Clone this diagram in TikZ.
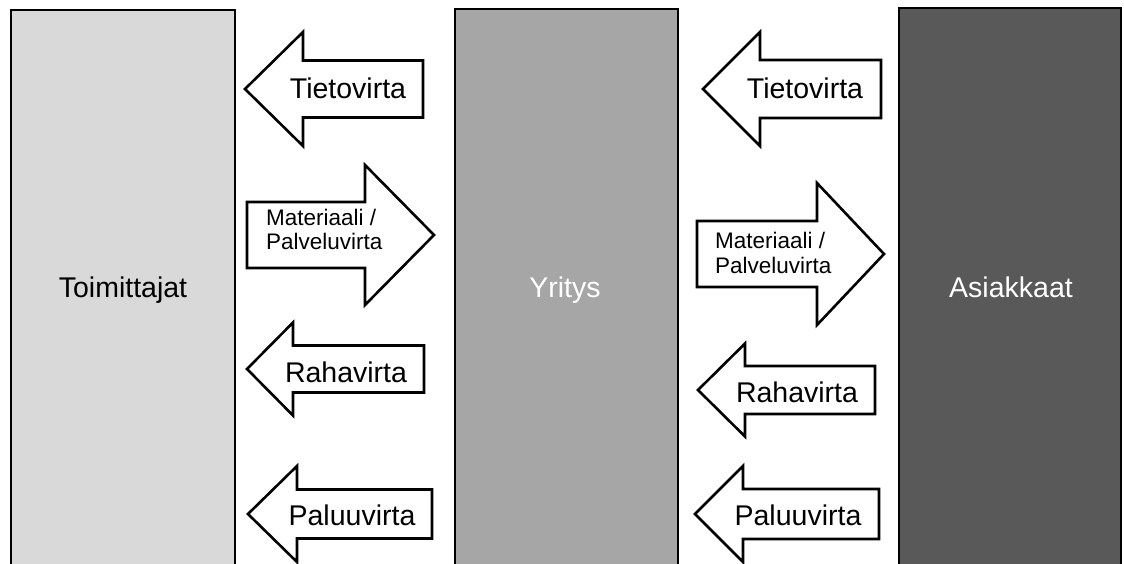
\documentclass[tikz,border=0pt]{standalone}
\usepackage{fontspec}
\setmainfont{Liberation Sans}
\definecolor{lightgrey}{HTML}{D9D9D9}
\definecolor{midgrey}{HTML}{A6A6A6}
\definecolor{darkgrey}{HTML}{595959}
% block arrow pointing left: tip x, centre y, head base x, head half-height, shaft half-height, tail x
\newcommand\flowleft[6]{%
  \draw[flow] (#1,#2) -- (#3,#2-#4) -- (#3,#2-#5) -- (#6,#2-#5) -- (#6,#2+#5)
    -- (#3,#2+#5) -- (#3,#2+#4) -- cycle;}
% block arrow pointing right: tail x, centre y, head base x, head half-height, shaft half-height, tip x
\newcommand\flowright[6]{%
  \draw[flow] (#1,#2-#5) -- (#3,#2-#5) -- (#3,#2-#4) -- (#6,#2) -- (#3,#2+#4)
    -- (#3,#2+#5) -- (#1,#2+#5) -- cycle;}
\begin{document}
\begin{tikzpicture}[x=1pt,y=-1pt,
  party/.style={draw=black, line width=2.6pt},
  flow/.style={draw=black, fill=white, line width=2.6pt, line join=miter},
  biglabel/.style={font=\fontsize{28.5}{30}\selectfont, inner sep=0pt, anchor=base},
  smalllabel/.style={font=\fontsize{22.5}{24}\selectfont, inner sep=0pt, anchor=base west}]
\useasboundingbox (0,0) rectangle (1124,563);
\fill[white] (0,0) rectangle (1124,563);
\clip (0,0) rectangle (1124,563);

% the three parties, running off the bottom edge
\draw[party, fill=lightgrey] (11,10) rectangle (235,580);
\draw[party, fill=midgrey]   (455,9) rectangle (678,580);
\draw[party, fill=darkgrey]  (899,8) rectangle (1121,580);

\node[biglabel] (toim) at (123,297) {Toimittajat};
\node[biglabel, text=white] (yrit) at (565,297) {Yritys};
\node[biglabel, text=white] (asia) at (1011,297) {Asiakkaat};

% flows between suppliers and the company
\flowleft{245}{89}{303}{57}{28.5}{423}
\node[biglabel] (tieto1) at (348,98) {Tietovirta};
\flowright{247}{235}{365}{70}{33}{434}
\node[smalllabel] (mat1) at (266,225) {Materiaali /};
\node[smalllabel] (pal1) at (266,249) {Palveluvirta};
\flowleft{247}{369}{293}{46.5}{23.5}{424}
\node[biglabel] (raha1) at (346,382) {Rahavirta};
\flowleft{248}{514}{297}{48}{24.5}{432}
\node[biglabel] (paluu1) at (352,525) {Paluuvirta};

% flows between the company and customers
\flowleft{703}{89}{760}{57}{29}{881}
\node[biglabel] (tieto2) at (805,98) {Tietovirta};
\flowright{697}{254}{817}{71}{33}{884}
\node[smalllabel] (mat2) at (715,248) {Materiaali /};
\node[smalllabel] (pal2) at (715,273) {Palveluvirta};
\flowleft{698}{390}{745}{46.5}{24}{875}
\node[biglabel] (raha2) at (797,402) {Rahavirta};
\flowleft{695}{514}{743}{48}{25}{879}
\node[biglabel] (paluu2) at (798,525) {Paluuvirta};
\end{tikzpicture}
\end{document}
